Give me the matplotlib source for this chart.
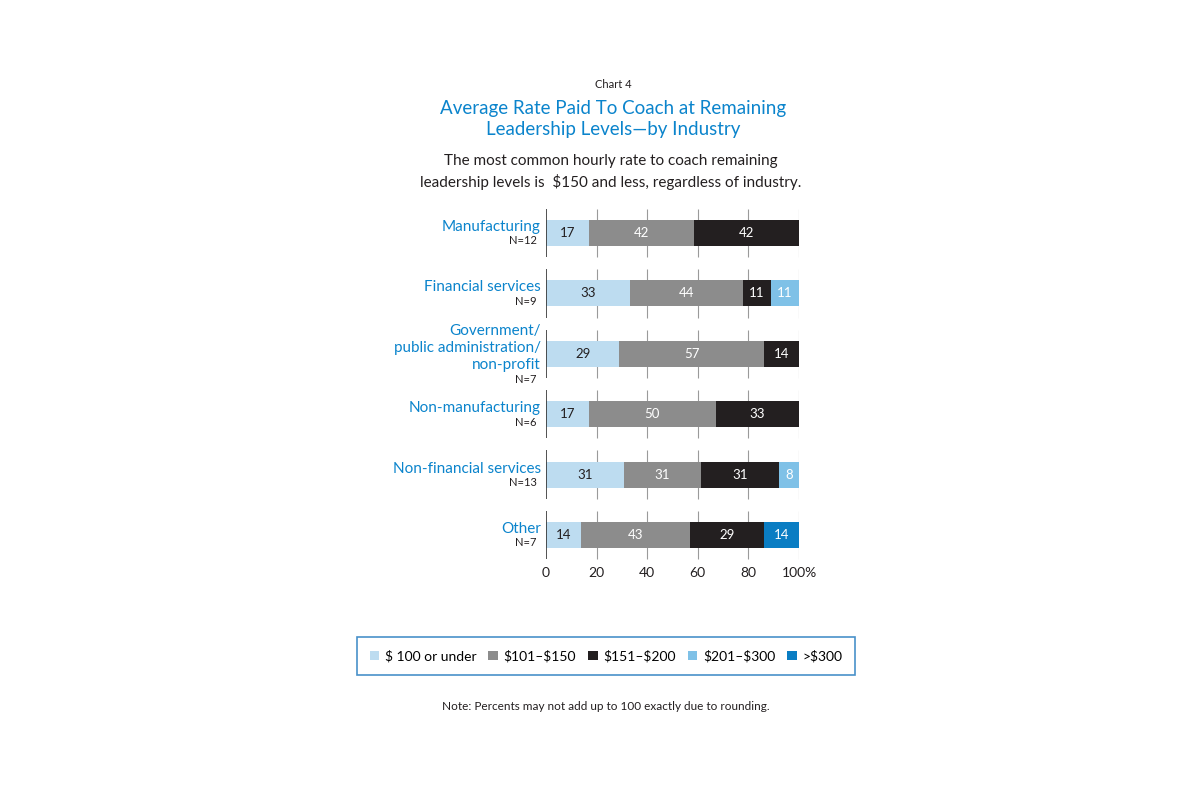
import matplotlib
matplotlib.use("Agg")
import matplotlib.pyplot as plt
import matplotlib.transforms as mtransforms
from matplotlib.patches import Patch
import numpy as np

plt.rcParams['font.family'] = ['Lato', 'DejaVu Sans']

# data
industries = ['Manufacturing', 'Financial services', 'Government/\npublic administration/\nnon-profit',
              'Non-manufacturing', 'Non-financial services', 'Other']
sample_sizes = ['N=12', 'N=9', 'N=7', 'N=6', 'N=13', 'N=7']
rate_bands = ['\\$ 100 or under', '\\$101\u2013\\$150', '\\$151\u2013\\$200', '\\$201\u2013\\$300', '>\\$300']
under_100 = [17, 33, 29, 17, 31, 14]
r101_150 = [42, 44, 57, 50, 31, 43]
r151_200 = [42, 11, 14, 33, 31, 29]
r201_300 = [0, 11, 0, 0, 8, 0]
over_300 = [0, 0, 0, 0, 0, 14]
x_ticks = [0, 20, 40, 60, 80, 100]
x_tick_labels = ['0', '20', '40', '60', '80', '100%']

colors = ['#bddcf0', '#8c8c8c', '#231f20', '#7fc1e7', '#0a7dc3']
text_colors = ['#231f20', 'white', 'white', 'white', 'white']
blue = '#0b84cc'

fig = plt.figure(figsize=(12, 8), dpi=100)
ax = fig.add_axes([546 / 1200, 1 - 560 / 800, 253 / 1200, 355 / 800])

series = np.array([under_100, r101_150, r151_200, r201_300, over_300], dtype=float)
# rounded percents don't always add to 100; bars are drawn full width like the original
scale = 100 / series.sum(axis=0)
y = np.arange(len(industries))
left = np.zeros(len(industries))
for vals, c, tc in zip(series, colors, text_colors):
    widths = vals * scale
    ax.barh(y, widths, left=left, height=0.43, color=c, edgecolor='none', zorder=3)
    for yi, l, w, v in zip(y, left, widths, vals):
        if v > 0:
            ax.text(l + w / 2, yi, str(int(v)), ha='center', va='center',
                    color=tc, fontsize=9.5, zorder=4)
    left += widths

# segmented grid lines per row
for yi in y:
    ax.vlines(x_ticks[1:], yi - 0.4, yi + 0.4, color='#9a9a9a', lw=0.8, zorder=1)
    ax.vlines(0, yi - 0.4, yi + 0.4, color='#333333', lw=1.2, zorder=5)

ax.set_xlim(0, 100)
ax.set_ylim(5.414, -0.464)
ax.set_xticks(x_ticks)
ax.set_xticklabels(x_tick_labels, fontsize=10, color='#231f20')
ax.set_yticks([])
ax.tick_params(axis='x', length=0, pad=5)
for s in ax.spines.values():
    s.set_visible(False)

trans = mtransforms.blended_transform_factory(ax.transAxes, ax.transData)
off = mtransforms.ScaledTranslation(0, 6 / 100, fig.dpi_scale_trans)
for yi, name, n in zip(y, industries, sample_sizes):
    t = ax.text(-0.02, yi, name, transform=trans + off, ha='right', va='center',
                color=blue, fontsize=11, linespacing=1.3, multialignment='right')
    ax.annotate(n, xy=(1, 0), xycoords=t, xytext=(-3, -1), textcoords='offset points',
                ha='right', va='top', fontsize=8, color='#231f20')

# titles
fig.text(0.511, 1 - 84 / 800, 'Chart 4', ha='center', va='center', fontsize=8, color='#231f20')
fig.text(0.511, 1 - 119 / 800, 'Average Rate Paid To Coach at Remaining\nLeadership Levels\u2014by Industry',
         ha='center', va='center', fontsize=13.5, color=blue, linespacing=1.3)
fig.text(0.509, 1 - 172 / 800, 'The most common hourly rate to coach remaining\n'
         'leadership levels is  \\$150 and less, regardless of industry.',
         ha='center', va='center', fontsize=11, color='#231f20', linespacing=1.45)

handles = [Patch(facecolor=c, edgecolor='none') for c in colors]
leg = fig.legend(handles, rate_bands, loc='center', bbox_to_anchor=(606 / 1200, 1 - 656 / 800),
                 ncol=5, fontsize=10, frameon=True, fancybox=False, handlelength=0.7,
                 handleheight=0.7, handletextpad=0.4, columnspacing=0.85, borderpad=0.95,
                 borderaxespad=0)
leg.get_frame().set_edgecolor('#1b75bc')
leg.get_frame().set_linewidth(1.2)

fig.text(0.505, 1 - 706 / 800, 'Note: Percents may not add up to 100 exactly due to rounding.',
         ha='center', va='center', fontsize=8.5, color='#231f20')

fig.savefig('out.png', dpi=100, facecolor='white')
